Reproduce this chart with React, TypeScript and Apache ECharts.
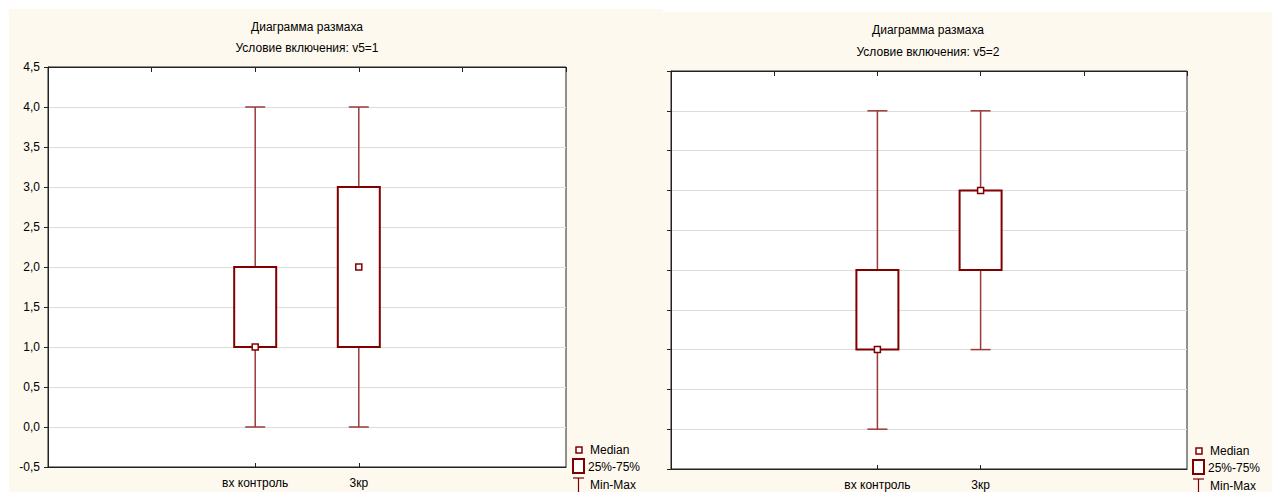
import React, { useEffect, useRef } from "react";
import * as echarts from "echarts";

const categories = ["вх контроль", "3кр"];
const yTickMin = -0.5;
const yTickMax = 4.5;
const yTickStep = 0.5;

// Panel 1: Условие включения: v5=1
const p1Min = [0, 0];
const p1Q1 = [1, 1];
const p1Median = [1, 2];
const p1Q3 = [2, 3];
const p1Max = [4, 4];

// Panel 2: Условие включения: v5=2
const p2Min = [0, 1];
const p2Q1 = [1, 2];
const p2Median = [1, 3];
const p2Q3 = [2, 3];
const p2Max = [4, 4];

const titleMain = "Диаграмма размаха";
const subtitle1 = "Условие включения: v5=1";
const subtitle2 = "Условие включения: v5=2";
const legendLabels = ["Median", "25%-75%", "Min-Max"];

const FONT = "Liberation Sans, Arial, sans-serif";
const DARK = "#800000";
const WHISK = "#9a3a3a";
const CREAM = "#fef9ef";

function buildRows(mn: number[], q1: number[], md: number[], q3: number[], mx: number[]) {
  return categories.map((_, i) => [i + 1, mn[i], q1[i], md[i], q3[i], mx[i]]);
}

function renderBox(params: any, api: any) {
  const x = api.value(0);
  const pMin = api.coord([x, api.value(1)]);
  const pQ1 = api.coord([x, api.value(2)]);
  const pMed = api.coord([x, api.value(3)]);
  const pQ3 = api.coord([x, api.value(4)]);
  const pMax = api.coord([x, api.value(5)]);
  const cx = pMin[0];
  const boxW = 42;
  const capW = 20;
  return {
    type: "group",
    children: [
      { type: "line", shape: { x1: cx, y1: pMax[1], x2: cx, y2: pMin[1] }, style: { stroke: WHISK, lineWidth: 1.5 } },
      { type: "line", shape: { x1: cx - capW / 2, y1: pMin[1], x2: cx + capW / 2, y2: pMin[1] }, style: { stroke: WHISK, lineWidth: 1.5 } },
      { type: "line", shape: { x1: cx - capW / 2, y1: pMax[1], x2: cx + capW / 2, y2: pMax[1] }, style: { stroke: WHISK, lineWidth: 1.5 } },
      { type: "rect", shape: { x: cx - boxW / 2, y: pQ3[1], width: boxW, height: pQ1[1] - pQ3[1] }, style: { fill: "#fff", stroke: DARK, lineWidth: 2 } },
      { type: "rect", shape: { x: cx - 3, y: pMed[1] - 3, width: 6, height: 6 }, style: { fill: "#fff", stroke: DARK, lineWidth: 1.5 } },
    ],
  };
}

function legendGraphics(x0: number, y0: number) {
  const txt = (t: string, x: number, y: number) => ({
    type: "text",
    x,
    y,
    style: { text: t, font: `12px ${FONT}`, fill: "#000", textVerticalAlign: "middle" },
    z: 10,
  });
  return [
    { type: "rect", shape: { x: x0 + 3, y: y0, width: 6, height: 6 }, style: { fill: "#fff", stroke: DARK, lineWidth: 1.5 }, z: 10 },
    txt(legendLabels[0], x0 + 17, y0 + 3),
    { type: "rect", shape: { x: x0, y: y0 + 12, width: 11, height: 14 }, style: { fill: "#fff", stroke: DARK, lineWidth: 2 }, z: 10 },
    txt(legendLabels[1], x0 + 15, y0 + 20),
    { type: "line", shape: { x1: x0, y1: y0 + 31, x2: x0 + 11, y2: y0 + 31 }, style: { stroke: DARK, lineWidth: 1.2 }, z: 10 },
    { type: "line", shape: { x1: x0 + 5.5, y1: y0 + 31, x2: x0 + 5.5, y2: y0 + 46 }, style: { stroke: DARK, lineWidth: 1.2 }, z: 10 },
    txt(legendLabels[2], x0 + 17, y0 + 38),
  ];
}

function App() {
  const ref = useRef<HTMLDivElement>(null);
  useEffect(() => {
    document.body.style.margin = "0";
    if (!ref.current) return;
    const chart = echarts.init(ref.current, undefined, { renderer: "svg" });
    const fmtY = (v: number) => v.toFixed(1).replace(".", ",");
    const yAxisBase = (gridIndex: number, showLabel: boolean) => ({
      type: "value",
      gridIndex,
      min: yTickMin,
      max: yTickMax,
      interval: yTickStep,
      axisLine: { show: true, onZero: false, lineStyle: { color: "#222", width: 1 } },
      axisTick: { show: true, inside: false, length: 4, lineStyle: { color: "#222" } },
      axisLabel: { show: showLabel, formatter: fmtY, fontFamily: FONT, fontSize: 12, color: "#000", margin: 8 },
      splitLine: { show: true, lineStyle: { color: "#dcdcdc", width: 1 } },
    });
    const xBottom = (gridIndex: number) => ({
      type: "value",
      gridIndex,
      min: -1,
      max: categories.length + 2,
      position: "bottom",
      axisLine: { show: true, onZero: false, lineStyle: { color: "#222" } },
      axisTick: { show: true, inside: true, length: 4, customValues: categories.map((_, i) => i + 1), lineStyle: { color: "#222" } },
      axisLabel: {
        show: true,
        customValues: categories.map((_, i) => i + 1),
        formatter: (v: number) => categories[Math.round(v) - 1] ?? "",
        fontFamily: FONT,
        fontSize: 12,
        color: "#000",
        margin: 10,
      },
      splitLine: { show: false },
    });
    const xTop = (gridIndex: number) => ({
      type: "value",
      gridIndex,
      min: -1,
      max: categories.length + 2,
      interval: 1,
      position: "top",
      axisLine: { show: true, onZero: false, lineStyle: { color: "#222" } },
      axisTick: { show: true, inside: true, length: 5, lineStyle: { color: "#222" } },
      axisLabel: { show: false },
      splitLine: { show: false },
    });

    chart.setOption({
      animation: false,
      grid: [
        { left: 48, top: 67, width: 518, height: 400, show: true, backgroundColor: "#fff", borderColor: "#222", borderWidth: 1 },
        { left: 671, top: 71, width: 516, height: 398, show: true, backgroundColor: "#fff", borderColor: "#222", borderWidth: 1 },
      ],
      xAxis: [xBottom(0), xTop(0), xBottom(1), xTop(1)],
      yAxis: [yAxisBase(0, true), yAxisBase(1, false)],
      graphic: [
        { type: "rect", shape: { x: 9, y: 9, width: 654, height: 483 }, style: { fill: CREAM }, z: -100, silent: true },
        { type: "rect", shape: { x: 659, y: 12, width: 613, height: 480 }, style: { fill: CREAM }, z: -99, silent: true },
        { type: "text", x: 307, y: 27, style: { text: titleMain, font: `12px ${FONT}`, fill: "#000", textAlign: "center", textVerticalAlign: "middle" } },
        { type: "text", x: 307, y: 48, style: { text: subtitle1, font: `12px ${FONT}`, fill: "#000", textAlign: "center", textVerticalAlign: "middle" } },
        { type: "text", x: 928, y: 30, style: { text: titleMain, font: `12px ${FONT}`, fill: "#000", textAlign: "center", textVerticalAlign: "middle" } },
        { type: "text", x: 928, y: 52, style: { text: subtitle2, font: `12px ${FONT}`, fill: "#000", textAlign: "center", textVerticalAlign: "middle" } },
        ...legendGraphics(573, 447),
        ...legendGraphics(1193, 448),
      ],
      series: [
        {
          type: "custom",
          xAxisIndex: 0,
          yAxisIndex: 0,
          renderItem: renderBox,
          encode: { x: 0, y: [1, 2, 3, 4, 5] },
          data: buildRows(p1Min, p1Q1, p1Median, p1Q3, p1Max),
          clip: false,
          z: 5,
        },
        {
          type: "custom",
          xAxisIndex: 2,
          yAxisIndex: 1,
          renderItem: renderBox,
          encode: { x: 0, y: [1, 2, 3, 4, 5] },
          data: buildRows(p2Min, p2Q1, p2Median, p2Q3, p2Max),
          clip: false,
          z: 5,
        },
      ],
    });
    return () => chart.dispose();
  }, []);
  return <div ref={ref} style={{ width: 1272, height: 492, background: "#fff" }} />;
}

export default App;
